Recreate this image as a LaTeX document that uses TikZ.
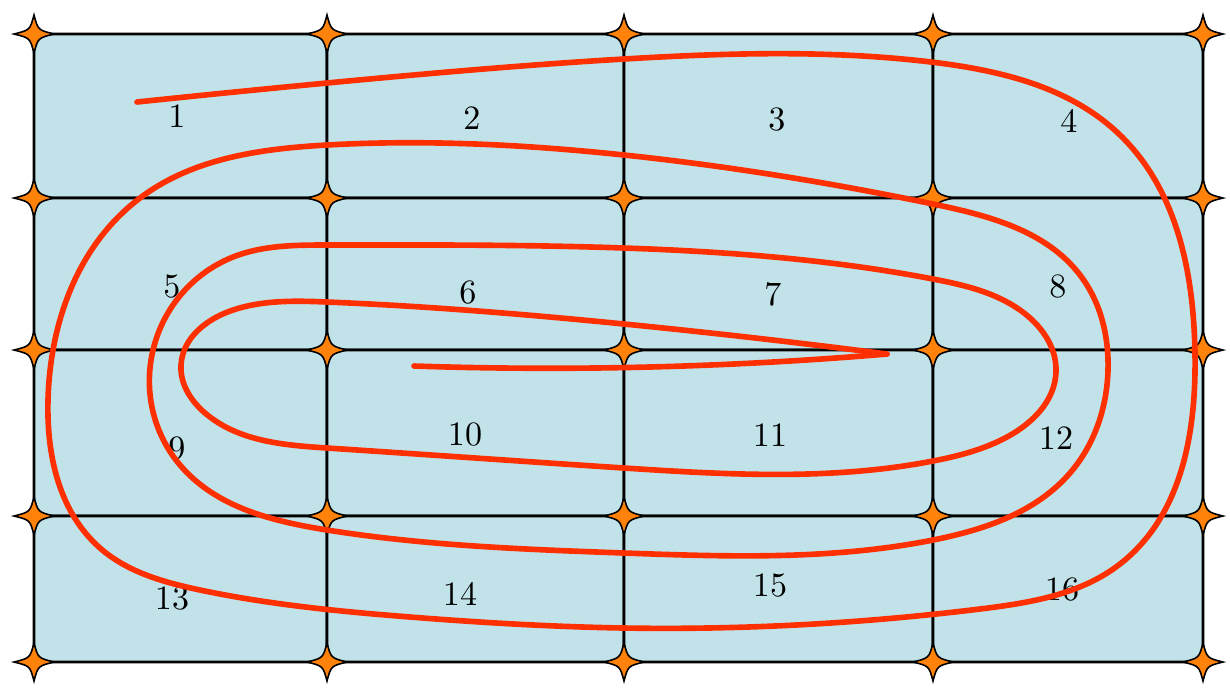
\documentclass[tikz,border=0pt]{standalone}
\usepackage{tikz}
\usetikzlibrary{hobby}
\definecolor{cellblue}{RGB}{194,226,234}
\definecolor{starorange}{RGB}{255,130,10}
\definecolor{spiralred}{RGB}{255,48,0}
\tikzset{
    cell/.style={draw=black, fill=cellblue, line width=0.75pt, rounded corners=0.1cm},
    starshape/.style={draw=black, fill=starorange, line width=0.45pt},
    cellnum/.style={font=\fontsize{9.7}{11}\selectfont, inner sep=0pt},
    spiral/.style={draw=spiralred, line width=1.6pt, line cap=round, line join=round, use Hobby shortcut}
}
\begin{document}
\begin{tikzpicture}[x=0.01cm, y=-0.01cm]
\useasboundingbox (0,0) rectangle (1230,687);

% cells of the 4x4 grid
\foreach \xa/\xb in {34/327, 327/624, 624/933, 933/1203}
  \foreach \ya/\yb in {34/198, 198/350, 350/516, 516/662}
    \draw[cell] (\xa,\ya) rectangle (\xb,\yb);

% cell numbers
\foreach \n/\x/\y in {1/177/116, 2/472/118, 3/777/120, 4/1069/121,
                      5/172/287, 6/468/293, 7/773/294, 8/1058/287,
                      9/177/449, 10/465/435, 11/770/435, 12/1056/438,
                      13/172/598, 14/460/594, 15/770/585, 16/1062/589}
  \node[cellnum] (num\n) at (\x,\y) {\n};

% stars on the grid points
\foreach \x in {34,327,624,933,1203}
  \foreach \y in {34,198,350,516,662}
  {
    \begin{scope}[shift={(\x,\y)}]
      \draw[starshape] (20,0) .. controls (4,4) .. (0,19) .. controls (-4,4) .. (-20,0)
        .. controls (-4,-4) .. (0,-19) .. controls (4,-4) .. cycle;
    \end{scope}
  }

% spiral path
\draw[spiral] (137,102) .. (327,83) .. (624,59) .. (931,62) .. (1120,135)
  .. (1195,354) .. (1120,564) .. (980,609) .. (624,628) .. (410,617)
  .. (200,590) .. (100,548) .. (48,400) .. (140,198)
  .. (327,145) .. (624,155)
  .. (933,204) .. (1080,275) .. (1108,370) .. (1070,473) .. (933,540)
  .. (624,553) .. (327,530) .. (180,465) .. (150,368) .. (233,257)
  .. (327,245) .. (624,248) .. (933,279) .. (1020,310) .. (1056,372)
  .. (1007,437) .. (933,461) .. (624,468) .. (327,448) .. (205,413)
  .. (181,365) .. (233,310) .. (327,302) .. (624,324) .. (887,354);
\draw[spiral] (887,354) .. (773,362) .. (414,366);
\end{tikzpicture}
\end{document}
